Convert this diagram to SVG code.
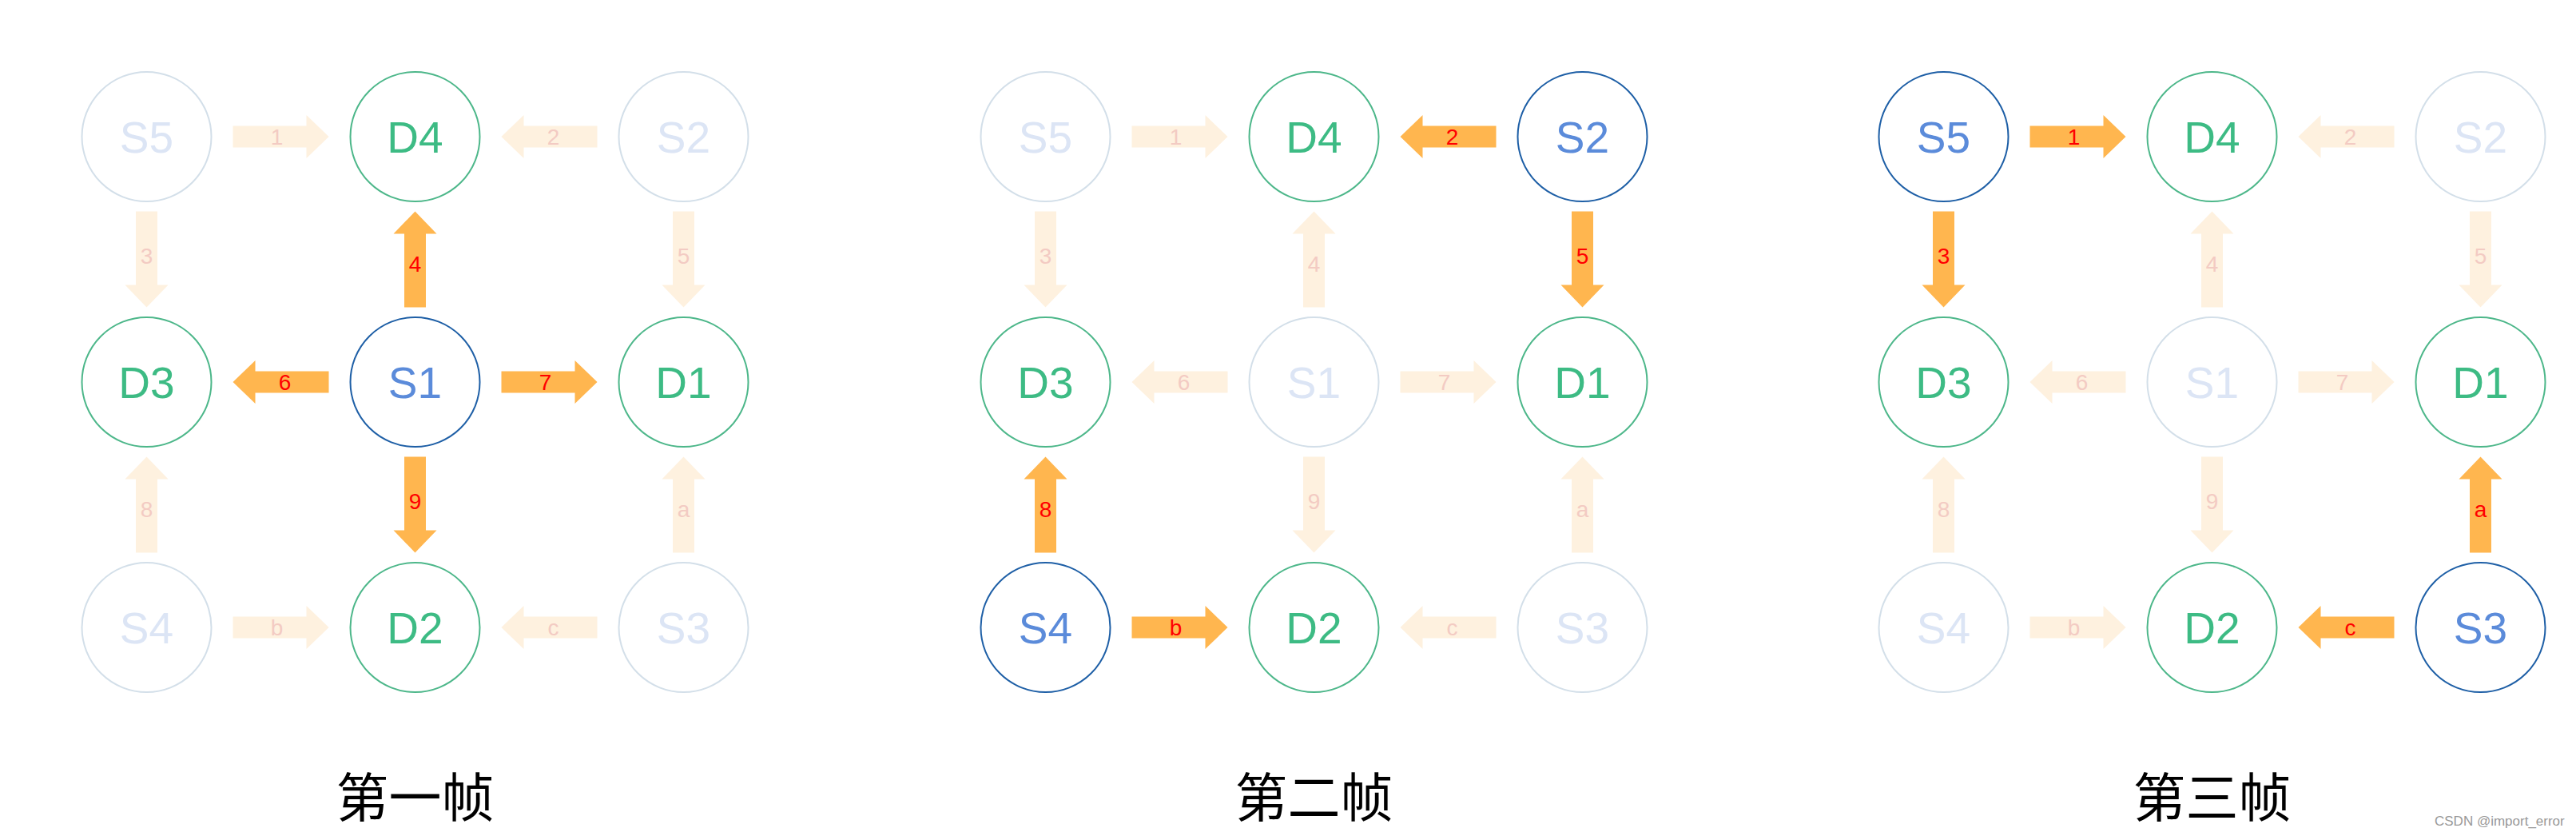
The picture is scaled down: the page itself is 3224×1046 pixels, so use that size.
<svg xmlns="http://www.w3.org/2000/svg" xmlns:xlink="http://www.w3.org/1999/xlink" width="3224" height="1046" viewBox="0 0 3224 1046">
<style>
.nd{fill:#fff;stroke-width:2}
.s-on{stroke:#1E5FA6}
.s-off{stroke:#D3DFE9}
.d{stroke:#4DB78A}
.t{font-family:"Liberation Sans",Arial,sans-serif;font-size:55px;text-anchor:middle}
.t-son{fill:#5B8BDA}
.t-soff{fill:#DCE5F5}
.t-d{fill:#3DBB84}
.a-on{fill:#FFB64F}
.a-off{fill:#FEF1DF}
.l{font-family:"Liberation Sans",Arial,sans-serif;font-size:28px;text-anchor:middle}
.l-on{fill:#FF0000}
.l-off{fill:#F3CBC3}
.title{font-family:"Noto Sans CJK SC","Liberation Sans",sans-serif;font-size:66px;text-anchor:middle;fill:#000}
.wm{font-family:"Liberation Sans",Arial,sans-serif;font-size:17px;fill:#999}
</style>
<defs>
<path id="arr" d="M-60,-13.5 H32 V-27 L60,0 L32,27 V13.5 H-60 Z"/>
</defs>
<rect width="3224" height="1046" fill="#fff"/>

<!-- Panel 1 -->
<g id="panel1">
<g id="p1-connectors">
<use href="#arr" class="a-off" transform="translate(351.5,171)"/><text class="l l-off" x="346.5" y="181">1</text>
<use href="#arr" class="a-off" transform="translate(687.5,171) rotate(180)"/><text class="l l-off" x="692.5" y="181">2</text>
<use href="#arr" class="a-off" transform="translate(183.5,324.5) rotate(90)"/><text class="l l-off" x="183.5" y="329.5">3</text>
<use href="#arr" class="a-on" transform="translate(519.5,324.5) rotate(-90)"/><text class="l l-on" x="519.5" y="339.5">4</text>
<use href="#arr" class="a-off" transform="translate(855.5,324.5) rotate(90)"/><text class="l l-off" x="855.5" y="329.5">5</text>
<use href="#arr" class="a-on" transform="translate(351.5,478) rotate(180)"/><text class="l l-on" x="356.5" y="488">6</text>
<use href="#arr" class="a-on" transform="translate(687.5,478)"/><text class="l l-on" x="682.5" y="488">7</text>
<use href="#arr" class="a-off" transform="translate(183.5,631.5) rotate(-90)"/><text class="l l-off" x="183.5" y="646.5">8</text>
<use href="#arr" class="a-on" transform="translate(519.5,631.5) rotate(90)"/><text class="l l-on" x="519.5" y="636.5">9</text>
<use href="#arr" class="a-off" transform="translate(855.5,631.5) rotate(-90)"/><text class="l l-off" x="855.5" y="646.5">a</text>
<use href="#arr" class="a-off" transform="translate(351.5,785)"/><text class="l l-off" x="346.5" y="795">b</text>
<use href="#arr" class="a-off" transform="translate(687.5,785) rotate(180)"/><text class="l l-off" x="692.5" y="795">c</text>
</g>
<g id="p1-S5"><circle class="nd s-off" cx="183.5" cy="171" r="81"/><text class="t t-soff" x="183.5" y="191">S5</text></g>
<g id="p1-D4"><circle class="nd d" cx="519.5" cy="171" r="81"/><text class="t t-d" x="519.5" y="191">D4</text></g>
<g id="p1-S2"><circle class="nd s-off" cx="855.5" cy="171" r="81"/><text class="t t-soff" x="855.5" y="191">S2</text></g>
<g id="p1-D3"><circle class="nd d" cx="183.5" cy="478" r="81"/><text class="t t-d" x="183.5" y="498">D3</text></g>
<g id="p1-S1"><circle class="nd s-on" cx="519.5" cy="478" r="81"/><text class="t t-son" x="519.5" y="498">S1</text></g>
<g id="p1-D1"><circle class="nd d" cx="855.5" cy="478" r="81"/><text class="t t-d" x="855.5" y="498">D1</text></g>
<g id="p1-S4"><circle class="nd s-off" cx="183.5" cy="785" r="81"/><text class="t t-soff" x="183.5" y="805">S4</text></g>
<g id="p1-D2"><circle class="nd d" cx="519.5" cy="785" r="81"/><text class="t t-d" x="519.5" y="805">D2</text></g>
<g id="p1-S3"><circle class="nd s-off" cx="855.5" cy="785" r="81"/><text class="t t-soff" x="855.5" y="805">S3</text></g>
<text class="title" x="519.5" y="1022">第一帧</text>
</g>

<!-- Panel 2 -->
<g id="panel2" transform="translate(1125,0)">
<g id="p2-connectors">
<use href="#arr" class="a-off" transform="translate(351.5,171)"/><text class="l l-off" x="346.5" y="181">1</text>
<use href="#arr" class="a-on" transform="translate(687.5,171) rotate(180)"/><text class="l l-on" x="692.5" y="181">2</text>
<use href="#arr" class="a-off" transform="translate(183.5,324.5) rotate(90)"/><text class="l l-off" x="183.5" y="329.5">3</text>
<use href="#arr" class="a-off" transform="translate(519.5,324.5) rotate(-90)"/><text class="l l-off" x="519.5" y="339.5">4</text>
<use href="#arr" class="a-on" transform="translate(855.5,324.5) rotate(90)"/><text class="l l-on" x="855.5" y="329.5">5</text>
<use href="#arr" class="a-off" transform="translate(351.5,478) rotate(180)"/><text class="l l-off" x="356.5" y="488">6</text>
<use href="#arr" class="a-off" transform="translate(687.5,478)"/><text class="l l-off" x="682.5" y="488">7</text>
<use href="#arr" class="a-on" transform="translate(183.5,631.5) rotate(-90)"/><text class="l l-on" x="183.5" y="646.5">8</text>
<use href="#arr" class="a-off" transform="translate(519.5,631.5) rotate(90)"/><text class="l l-off" x="519.5" y="636.5">9</text>
<use href="#arr" class="a-off" transform="translate(855.5,631.5) rotate(-90)"/><text class="l l-off" x="855.5" y="646.5">a</text>
<use href="#arr" class="a-on" transform="translate(351.5,785)"/><text class="l l-on" x="346.5" y="795">b</text>
<use href="#arr" class="a-off" transform="translate(687.5,785) rotate(180)"/><text class="l l-off" x="692.5" y="795">c</text>
</g>
<g id="p2-S5"><circle class="nd s-off" cx="183.5" cy="171" r="81"/><text class="t t-soff" x="183.5" y="191">S5</text></g>
<g id="p2-D4"><circle class="nd d" cx="519.5" cy="171" r="81"/><text class="t t-d" x="519.5" y="191">D4</text></g>
<g id="p2-S2"><circle class="nd s-on" cx="855.5" cy="171" r="81"/><text class="t t-son" x="855.5" y="191">S2</text></g>
<g id="p2-D3"><circle class="nd d" cx="183.5" cy="478" r="81"/><text class="t t-d" x="183.5" y="498">D3</text></g>
<g id="p2-S1"><circle class="nd s-off" cx="519.5" cy="478" r="81"/><text class="t t-soff" x="519.5" y="498">S1</text></g>
<g id="p2-D1"><circle class="nd d" cx="855.5" cy="478" r="81"/><text class="t t-d" x="855.5" y="498">D1</text></g>
<g id="p2-S4"><circle class="nd s-on" cx="183.5" cy="785" r="81"/><text class="t t-son" x="183.5" y="805">S4</text></g>
<g id="p2-D2"><circle class="nd d" cx="519.5" cy="785" r="81"/><text class="t t-d" x="519.5" y="805">D2</text></g>
<g id="p2-S3"><circle class="nd s-off" cx="855.5" cy="785" r="81"/><text class="t t-soff" x="855.5" y="805">S3</text></g>
<text class="title" x="519.5" y="1022">第二帧</text>
</g>

<!-- Panel 3 -->
<g id="panel3" transform="translate(2249,0)">
<g id="p3-connectors">
<use href="#arr" class="a-on" transform="translate(351.5,171)"/><text class="l l-on" x="346.5" y="181">1</text>
<use href="#arr" class="a-off" transform="translate(687.5,171) rotate(180)"/><text class="l l-off" x="692.5" y="181">2</text>
<use href="#arr" class="a-on" transform="translate(183.5,324.5) rotate(90)"/><text class="l l-on" x="183.5" y="329.5">3</text>
<use href="#arr" class="a-off" transform="translate(519.5,324.5) rotate(-90)"/><text class="l l-off" x="519.5" y="339.5">4</text>
<use href="#arr" class="a-off" transform="translate(855.5,324.5) rotate(90)"/><text class="l l-off" x="855.5" y="329.5">5</text>
<use href="#arr" class="a-off" transform="translate(351.5,478) rotate(180)"/><text class="l l-off" x="356.5" y="488">6</text>
<use href="#arr" class="a-off" transform="translate(687.5,478)"/><text class="l l-off" x="682.5" y="488">7</text>
<use href="#arr" class="a-off" transform="translate(183.5,631.5) rotate(-90)"/><text class="l l-off" x="183.5" y="646.5">8</text>
<use href="#arr" class="a-off" transform="translate(519.5,631.5) rotate(90)"/><text class="l l-off" x="519.5" y="636.5">9</text>
<use href="#arr" class="a-on" transform="translate(855.5,631.5) rotate(-90)"/><text class="l l-on" x="855.5" y="646.5">a</text>
<use href="#arr" class="a-off" transform="translate(351.5,785)"/><text class="l l-off" x="346.5" y="795">b</text>
<use href="#arr" class="a-on" transform="translate(687.5,785) rotate(180)"/><text class="l l-on" x="692.5" y="795">c</text>
</g>
<g id="p3-S5"><circle class="nd s-on" cx="183.5" cy="171" r="81"/><text class="t t-son" x="183.5" y="191">S5</text></g>
<g id="p3-D4"><circle class="nd d" cx="519.5" cy="171" r="81"/><text class="t t-d" x="519.5" y="191">D4</text></g>
<g id="p3-S2"><circle class="nd s-off" cx="855.5" cy="171" r="81"/><text class="t t-soff" x="855.5" y="191">S2</text></g>
<g id="p3-D3"><circle class="nd d" cx="183.5" cy="478" r="81"/><text class="t t-d" x="183.5" y="498">D3</text></g>
<g id="p3-S1"><circle class="nd s-off" cx="519.5" cy="478" r="81"/><text class="t t-soff" x="519.5" y="498">S1</text></g>
<g id="p3-D1"><circle class="nd d" cx="855.5" cy="478" r="81"/><text class="t t-d" x="855.5" y="498">D1</text></g>
<g id="p3-S4"><circle class="nd s-off" cx="183.5" cy="785" r="81"/><text class="t t-soff" x="183.5" y="805">S4</text></g>
<g id="p3-D2"><circle class="nd d" cx="519.5" cy="785" r="81"/><text class="t t-d" x="519.5" y="805">D2</text></g>
<g id="p3-S3"><circle class="nd s-on" cx="855.5" cy="785" r="81"/><text class="t t-son" x="855.5" y="805">S3</text></g>
<text class="title" x="519.5" y="1022">第三帧</text>
</g>

<text class="wm" x="3047" y="1033">CSDN @import_error</text>
</svg>
